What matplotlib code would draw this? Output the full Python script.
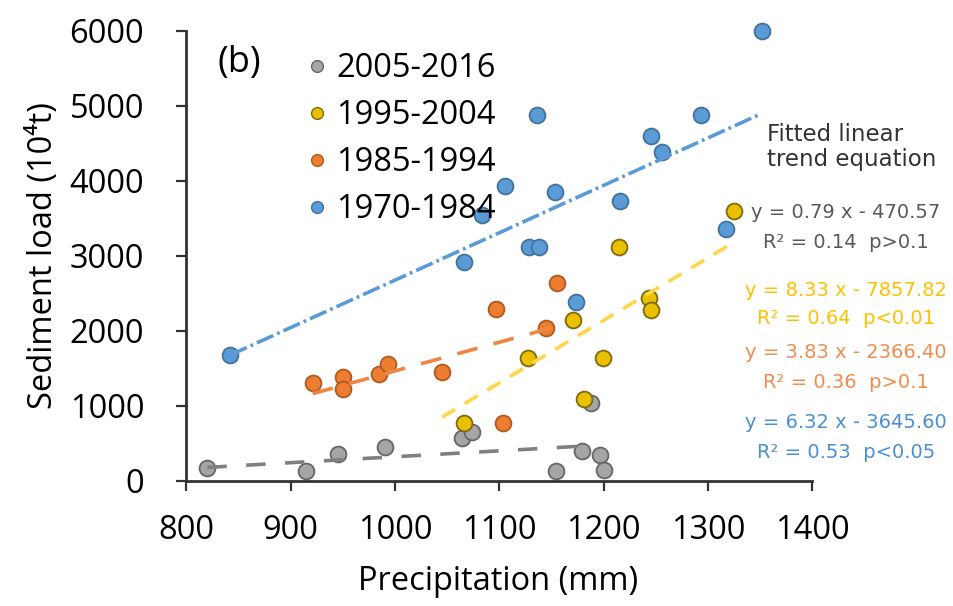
import matplotlib
matplotlib.use('Agg')
import matplotlib.pyplot as plt
from matplotlib.lines import Line2D
import numpy as np

plt.rcParams.update({"font.family": ["Open Sans", "DejaVu Sans"], "font.size": 23.5,
                     "lines.scale_dashes": False})

# 2005-2016
p_0516 = [820, 915, 945, 990, 1064, 1074, 1154, 1179, 1188, 1196, 1200]
s_0516 = [165, 125, 350, 450, 570, 650, 135, 395, 1040, 345, 145]
# 1995-2004
p_9504 = [1066, 1127, 1171, 1181, 1199, 1215, 1243, 1245, 1325]
s_9504 = [775, 1640, 2140, 1095, 1635, 3120, 2430, 2270, 3600]
# 1985-1994
p_8594 = [921, 950, 950, 985, 993, 1045, 1097, 1103, 1145, 1155]
s_8594 = [1300, 1380, 1220, 1420, 1560, 1450, 2290, 775, 2030, 2630]
# 1970-1984
p_7084 = [842, 1066, 1083, 1105, 1128, 1138, 1136, 1153, 1173, 1216, 1245, 1256, 1293, 1317, 1352]
s_7084 = [1680, 2910, 3540, 3930, 3110, 3110, 4870, 3850, 2385, 3730, 4600, 4380, 4880, 3360, 6000]

# trend lines: slope, intercept, x-range
fit_0516 = (0.79, -470.57, 820, 1180)
fit_9504 = (8.33, -7857.82, 1045, 1325)
fit_8594 = (3.83, -2366.40, 921, 1155)
fit_7084 = (6.32, -3645.60, 842, 1348)

eq_txt = [("y = 0.79 x - 470.57", "R\u00b2 = 0.14  p>0.1", "#595959"),
          ("y = 8.33 x - 7857.82", "R\u00b2 = 0.64  p<0.01", "#ffc000"),
          ("y = 3.83 x - 2366.40", "R\u00b2 = 0.36  p>0.1", "#f08c4c"),
          ("y = 6.32 x - 3645.60", "R\u00b2 = 0.53  p<0.05", "#4a90d0")]

W, H = 954, 606
fig = plt.figure(figsize=(W/100, H/100), dpi=100)
ax = fig.add_axes([186.5/W, 1-480.7/H, (812.3-186.5)/W, (480.7-30.7)/H])

series = [  # drawing order
    (p_7084, s_7084, "#5b9bd5", "#41719c", "1970-1984"),
    (p_8594, s_8594, "#ed7d31", "#ae5a21", "1985-1994"),
    (p_0516, s_0516, "#a5a5a5", "#666666", "2005-2016"),
    (p_9504, s_9504, "#e8c000", "#7f6a10", "1995-2004"),
]
for x, y, fc, ec, lab in series:
    ax.scatter(x, y, s=130, c=fc, edgecolors=ec, linewidths=1.3, zorder=2, clip_on=False)

def trend(fit, col, dashes, lw=2.6):
    k, b, x0, x1 = fit
    xx = np.array([x0, x1])
    ln, = ax.plot(xx, k*xx + b, color=col, lw=lw, zorder=3)
    ln.set_dashes(dashes)

trend(fit_0516, "#7f7f7f", (14, 14))
trend(fit_9504, "#ffd54a", (11, 8))
trend(fit_8594, "#ef8540", (15, 12))
trend(fit_7084, "#5b9bd5", (13, 3, 2, 3))

ax.set_xlim(800, 1400)
ax.set_ylim(0, 6000)
ax.set_xticks(np.arange(800, 1401, 100))
ax.set_yticks(np.arange(0, 6001, 1000))
for s in ['top', 'right']:
    ax.spines[s].set_visible(False)
for s in ['left', 'bottom']:
    ax.spines[s].set_linewidth(2)
    ax.spines[s].set_color('#333333')
ax.tick_params(axis='both', length=7, width=1.6, color='#333333', direction='out')
ax.tick_params(axis='x', pad=17)
ax.tick_params(axis='y', pad=23.5)

ax.set_xlabel("Precipitation (mm)")
ax.xaxis.label.set_va('center')
ax.xaxis.set_label_coords(0.498, -0.225)
ax.set_ylabel("Sediment load (10\u2074t)")
ax.yaxis.set_label_coords(-0.202, 0.5)

# legend
handles = [Line2D([], [], ls='none', marker='o', ms=8.5, mfc=fc, mec=ec, mew=1.0)
           for _, _, fc, ec, _ in series]
labels = [lab for *_, lab in series]
order = [2, 3, 1, 0]
fig.legend([handles[i] for i in order], [labels[i] for i in order],
           loc='upper left', bbox_to_anchor=(310/W, 1-52/H), frameon=False,
           handlelength=0.4, handletextpad=0.4, labelspacing=0.43,
           borderpad=0, borderaxespad=0, fontsize=23.5)

fig.text(239/W, 1-63/H, "(b)", fontsize=26, ha='center', va='center')

fig.text(767/W, 1-147/H, "Fitted linear\ntrend equation", fontsize=16.5,
         family='DejaVu Sans', color='#333333', ha='left', va='center', linespacing=1.15)

eq_y = [(213, 243), (290, 318), (353, 383), (422, 452)]
for (e, r, col), (y1, y2) in zip(eq_txt, eq_y):
    fig.text(846/W, 1-y1/H, e, fontsize=14, family='DejaVu Sans', color=col, ha='center', va='center')
    fig.text(846/W, 1-y2/H, r, fontsize=14, family='DejaVu Sans', color=col, ha='center', va='center')

fig.savefig("out.png", dpi=100)
